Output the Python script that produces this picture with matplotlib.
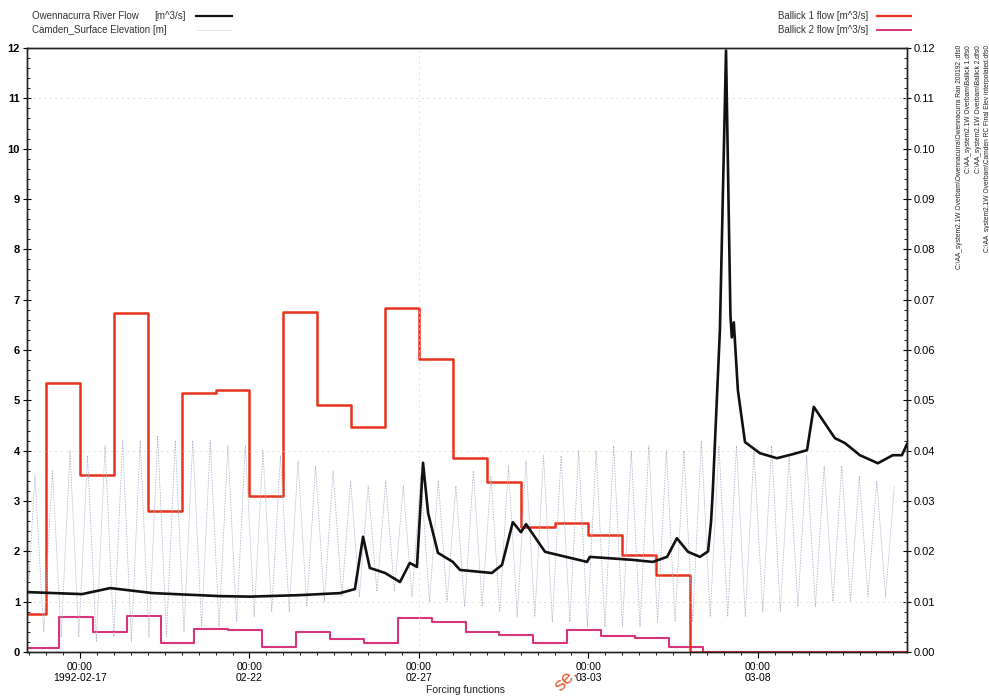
import numpy as np
import pandas as pd
import matplotlib
matplotlib.use('Agg')
import matplotlib.pyplot as plt
import matplotlib.dates as mdates
from matplotlib.lines import Line2D

plt.rcParams['font.family'] = ['Liberation Sans', 'DejaVu Sans']

t0 = pd.Timestamp('1992-02-17 00:00')
x_start_days = -1.565
x_end_days = 24.40

# Owennacurra River Flow [m^3/s], time in days from 1992-02-17 00:00
river_days = [-1.56, 0.06, 0.89, 2.15, 4.13, 5.02, 6.49, 7.08, 7.67, 8.11, 8.35, 8.55,
              9.00, 9.44, 9.73, 9.94, 10.12, 10.27, 10.56, 11.00, 11.21, 12.15, 12.45,
              12.77, 13.01, 13.16, 13.72, 14.96, 15.04, 16.31, 16.90, 17.32, 17.61,
              17.94, 18.29, 18.53, 18.62, 18.67, 18.88, 19.06, 19.19, 19.23, 19.29,
              19.41, 19.62, 20.06, 20.56, 21.03, 21.45, 21.65, 22.27, 22.57, 23.01,
              23.54, 23.98, 24.25, 24.40]
river_flow = [1.19, 1.15, 1.27, 1.17, 1.11, 1.10, 1.13, 1.15, 1.17, 1.25, 2.29, 1.67,
              1.57, 1.39, 1.77, 1.69, 3.76, 2.76, 1.97, 1.79, 1.63, 1.57, 1.73,
              2.58, 2.38, 2.54, 1.99, 1.79, 1.89, 1.83, 1.79, 1.89, 2.26,
              1.99, 1.89, 2.00, 2.60, 3.20, 6.40, 11.95, 6.70, 6.25, 6.55,
              5.20, 4.17, 3.95, 3.85, 3.93, 4.01, 4.87, 4.25, 4.15, 3.91,
              3.75, 3.91, 3.91, 4.13]

# Camden surface elevation [m]: successive low / high water levels
tide_start_days = -1.59
tide_step_hours = 6.21
tide_low = [0.5, 0.4, 0.3, 0.3, 0.2, 0.3, 0.2, 0.3, 0.3, 0.4,
            0.5, 0.5, 0.6, 0.7, 0.8, 0.8, 0.9, 1.0, 1.1, 1.1,
            1.2, 1.2, 1.1, 1.0, 1.0, 0.9, 0.9, 0.8, 0.7, 0.7,
            0.6, 0.6, 0.5, 0.5, 0.5, 0.5, 0.6, 0.6, 0.6, 0.7,
            0.7, 0.7, 0.8, 0.8, 0.9, 0.9, 1.0, 1.0, 1.1, 1.1]
tide_high = [3.5, 3.6, 4.0, 3.9, 4.1, 4.2, 4.2, 4.3, 4.2, 4.2,
             4.2, 4.1, 4.1, 4.0, 3.9, 3.8, 3.7, 3.6, 3.4, 3.3,
             3.4, 3.3, 3.5, 3.4, 3.3, 3.6, 3.5, 3.7, 3.8, 3.9,
             3.9, 4.0, 4.0, 4.1, 4.0, 4.1, 4.0, 4.0, 4.2, 4.1,
             4.1, 4.0, 4.1, 3.9, 3.9, 3.7, 3.7, 3.5, 3.4, 3.3]

# Ballick daily step flows [m^3/s]
ballick1_start = '1992-02-16 00:00'
ballick1_before = 0.0075
ballick1_flow = [0.0534, 0.0352, 0.0673, 0.0280, 0.0515, 0.0521, 0.0310, 0.0675,
                 0.0491, 0.0447, 0.0683, 0.0582, 0.0385, 0.0338, 0.0248, 0.0256,
                 0.0232, 0.0193, 0.0153]
ballick1_after = 0.0

ballick2_start = '1992-02-16 09:00'
ballick2_before = 0.0008
ballick2_flow = [0.0070, 0.0040, 0.0072, 0.0018, 0.0045, 0.0044, 0.0010, 0.0040,
                 0.0026, 0.0018, 0.0068, 0.0060, 0.0040, 0.0034, 0.0018, 0.0044,
                 0.0032, 0.0028, 0.0010]
ballick2_after = 0.0

x_tick_labels = ['00:00\n1992-02-17', '00:00\n02-22', '00:00\n02-27',
                 '00:00\n03-03', '00:00\n03-08']

source_files = ('C:\\AA_system2.1W Overbam\\Owennacurra\\Owennacurra Ran 200192 .dfs0\n'
                'C:\\AA_system2.1W Overbam\\Ballick 1.dfs0\n'
                'C:\\AA_system2.1W Overbam\\Ballick 2.dfs0\n'
                'C:\\AA_system2.1W Overbam\\Camden RC Final Elev interpolated.dfs0')


def days_to_time(days):
    return t0 + pd.to_timedelta(np.asarray(days, dtype=float), unit='D')


x_lo = t0 + pd.Timedelta(days=x_start_days)
x_hi = t0 + pd.Timedelta(days=x_end_days)


def step_series(start, before, flows, after):
    edges = pd.date_range(start, periods=len(flows) + 1, freq='D')
    t = [x_lo] + list(edges) + [x_hi]
    v = [before] + list(flows) + [after, after]
    return t, v


fig = plt.figure(figsize=(9.89, 6.98), dpi=100)
ax = fig.add_axes([27 / 989, 1 - 652 / 698, 880 / 989, 604 / 698])
ax2 = ax.twinx()

# tide
tide_levels = np.empty(len(tide_low) + len(tide_high))
tide_levels[0::2] = tide_low
tide_levels[1::2] = tide_high
tide_time = pd.date_range(t0 + pd.Timedelta(days=tide_start_days),
                          periods=len(tide_levels),
                          freq=pd.Timedelta(hours=tide_step_hours))
ax.plot(tide_time, tide_levels, color='#aeb2c8', lw=0.55, ls=(0, (2, 1.5)), zorder=2)

ax.plot(days_to_time(river_days), river_flow, color='#111111', lw=1.9, zorder=4)

t1, v1 = step_series(ballick1_start, ballick1_before, ballick1_flow, ballick1_after)
t2, v2 = step_series(ballick2_start, ballick2_before, ballick2_flow, ballick2_after)
ax2.step(t2, v2, where='post', color='#d8347c', lw=1.5)
ax2.step(t1, v1, where='post', color='#e8321c', lw=1.8)

ax.set_zorder(ax2.get_zorder() + 1)
ax.patch.set_visible(False)

ax.set_xlim(x_lo, x_hi)
ax.set_ylim(0, 12)
ax2.set_ylim(0, 0.12)

# faint grid lines
for gy in [1, 4, 11]:
    ax.axhline(gy, color='#d4d4d8', lw=0.5, ls=(0, (3, 5)), zorder=1)
ax.axvline(t0 + pd.Timedelta(days=10), color='#d4d4d8', lw=0.5, ls=(0, (3, 5)), zorder=1)

major_x = pd.date_range(t0, periods=len(x_tick_labels), freq='5D')
ax.set_xticks(major_x)
ax.set_xticklabels(x_tick_labels)
ax.xaxis.set_minor_locator(mdates.HourLocator(byhour=[0, 12]))

ax.set_yticks(np.arange(0, 13, 1))
ax.set_yticks(np.arange(0, 12.01, 0.2), minor=True)
ax2.set_yticks(np.arange(0, 0.1201, 0.01))
ax2.set_yticks(np.arange(0, 0.1201, 0.002), minor=True)
ax2.yaxis.set_major_formatter(matplotlib.ticker.FormatStrFormatter('%.2f'))

ax.tick_params(axis='x', which='major', direction='out', length=4, labelsize=7.5, pad=3)
ax.tick_params(axis='x', which='minor', direction='out', length=2.5)
ax.tick_params(axis='y', which='major', direction='inout', length=6, labelsize=8, pad=2)
ax.tick_params(axis='y', which='minor', direction='in', length=2.5)
ax2.tick_params(axis='y', which='major', direction='inout', length=6, labelsize=8, pad=2)
ax2.tick_params(axis='y', which='minor', direction='in', length=2.5)
for lab in ax.get_yticklabels():
    lab.set_fontweight('bold')

for a in (ax, ax2):
    for s in a.spines.values():
        s.set_linewidth(1.0)
        s.set_color('#222222')

# legends
fs = 7
fig.text(32 / 989, 1 - 16 / 698, 'Owennacurra River Flow', fontsize=fs, va='center', color='#333333')
fig.text(154 / 989, 1 - 16 / 698, '[m^3/s]', fontsize=fs, va='center', color='#333333')
fig.add_artist(Line2D([196 / 989, 232 / 989], [1 - 16 / 698, 1 - 16 / 698],
                      color='#111111', lw=1.6, transform=fig.transFigure))
fig.text(32 / 989, 1 - 30 / 698, 'Camden_Surface Elevation [m]', fontsize=fs, va='center', color='#333333')
fig.add_artist(Line2D([196 / 989, 232 / 989], [1 - 30 / 698, 1 - 30 / 698],
                      color='#e2e2e8', lw=0.6, transform=fig.transFigure))

fig.text(868 / 989, 1 - 16 / 698, 'Ballick 1 flow [m^3/s]', fontsize=fs, va='center', ha='right', color='#333333')
fig.add_artist(Line2D([877 / 989, 911 / 989], [1 - 16 / 698, 1 - 16 / 698],
                      color='#e8321c', lw=1.6, transform=fig.transFigure))
fig.text(868 / 989, 1 - 30 / 698, 'Ballick 2 flow [m^3/s]', fontsize=fs, va='center', ha='right', color='#333333')
fig.add_artist(Line2D([877 / 989, 911 / 989], [1 - 30 / 698, 1 - 30 / 698],
                      color='#d8347c', lw=1.4, transform=fig.transFigure))

fig.text(465 / 989, 1 - 690 / 698, 'Forcing functions', fontsize=7.5, ha='center', va='center', color='#222222')

fig.text(956 / 989, 1 - 45 / 698, source_files, fontsize=4.8, rotation=90,
         ha='left', va='top', multialignment='right', color='#222222', linespacing=1.45)

# stamp fragment
fig.text(566 / 989, 1 - 680 / 698, 'se.', fontsize=14, rotation=45, color='#e85a30',
         ha='center', va='center')

fig.savefig('out.png', dpi=100)
